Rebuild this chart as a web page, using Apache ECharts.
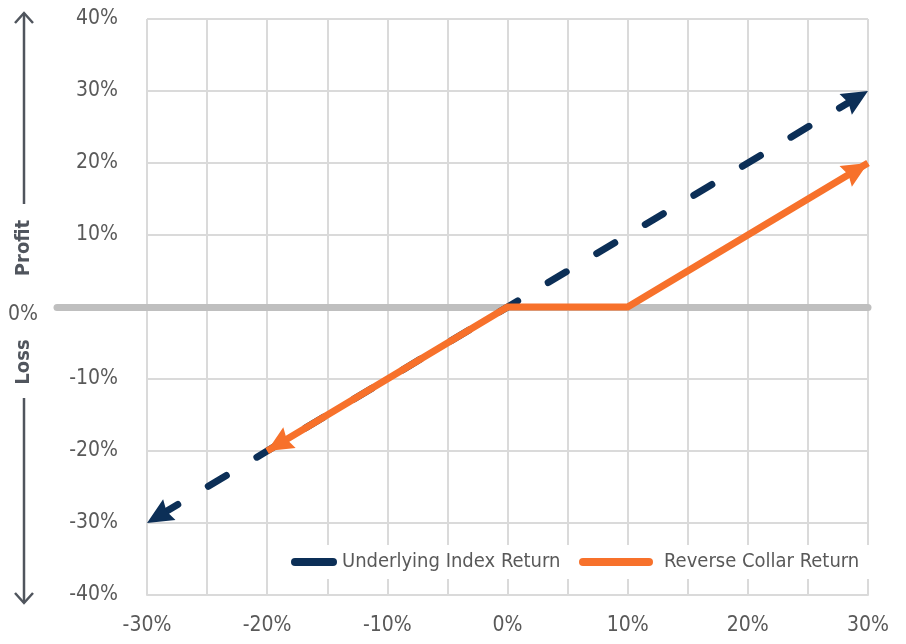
<!DOCTYPE html>
<html>
<head>
<meta charset="utf-8">
<script src="https://cdn.jsdelivr.net/npm/echarts@6/dist/echarts.min.js"></script>
<style>
  html, body { margin: 0; padding: 0; background: #fff; }
  #chart { width: 906px; height: 644px; }
</style>
</head>
<body>
<div id="chart"></div>
<script>
// data
const indexX = [-30, 30];
const indexY = [-30, 30];
const collarX = [-20, 0, 10, 30];
const collarY = [-20, 0, 0, 20];
const seriesNames = ["Underlying Index Return", "Reverse Collar Return"];
const xTickLabels = [-30, -20, -10, 0, 10, 20, 30];
const yTickLabels = [-40, -30, -20, -10, 10, 20, 30, 40];

const FONT = "'Liberation Sans Narrow', 'DejaVu Sans Condensed', 'Arial Narrow', sans-serif";
const NAVY = "#0c2f57";
const ORANGE = "#f7712b";
const GRID = "#dadada";
const LABEL = "#595959";
const SIDE = "#50555d";
// arrow head: tip on top, notched back
const ARROW = "path://M10,0 L20,24 L10,21 L0,24 Z";
const ARROW_SIZE = [24, 26];
const ARROW_OFF = [[0, 13], [0, 13]];

function pct(v) { return v + "%"; }

let chart = echarts.init(document.getElementById("chart"));
chart.setOption({
  animation: false,
  grid: [
    { left: 147, right: 38, top: 19, bottom: 49 },
    { left: 57, right: 38, top: 19, bottom: 49 } // only for the long 0% line
  ],
  xAxis: [
    {
      type: "value", gridIndex: 0, min: -30, max: 30, interval: 5,
      axisLine: { show: true, onZero: false, lineStyle: { color: GRID, width: 2 } },
      axisTick: { show: false },
      splitLine: { lineStyle: { color: GRID, width: 2 } },
      axisLabel: {
        margin: 20, color: LABEL, fontSize: 21, fontFamily: FONT,
        formatter: v => (xTickLabels.indexOf(v) >= 0 ? pct(v) : "")
      }
    },
    {
      type: "value", gridIndex: 1, min: -30, max: 30,
      axisLine: { show: true, onZero: true, lineStyle: { color: "#bfbfbf", width: 7 } },
      axisTick: { show: false },
      axisLabel: { show: false },
      splitLine: { show: false }
    }
  ],
  yAxis: [
    {
      type: "value", gridIndex: 0, min: -40, max: 40, interval: 10,
      axisLine: { show: true, lineStyle: { color: GRID, width: 2 } },
      axisTick: { show: false },
      splitLine: { lineStyle: { color: GRID, width: 2 } },
      axisLabel: {
        margin: 29, color: LABEL, fontSize: 21, fontFamily: FONT,
        formatter: v => (yTickLabels.indexOf(v) >= 0 ? pct(v) : "")
      }
    },
    {
      type: "value", gridIndex: 1, min: -40, max: 40, interval: 10,
      axisLine: { show: false },
      axisTick: { show: false },
      splitLine: { show: false },
      axisLabel: {
        margin: 19, color: LABEL, fontSize: 21, fontFamily: FONT,
        verticalAlign: "top", lineHeight: 16,
        formatter: v => (v === 0 ? "0%" : "")
      }
    }
  ],
  legend: [
    {
      data: [seriesNames[0]], left: 281, top: 545,
      itemWidth: 46, itemHeight: 8, itemGap: 4,
      icon: "path://M4,0 H42 A4,4 0 0 1 42,8 H4 A4,4 0 0 1 4,0 Z",
      backgroundColor: "#fff", padding: [7, 10, 7, 10],
      textStyle: { color: LABEL, fontSize: 20, fontFamily: FONT }
    },
    {
      data: [seriesNames[1]], left: 567, top: 545,
      itemWidth: 74, itemHeight: 8,
      icon: "path://M4,0 H70 A4,4 0 0 1 70,8 H4 A4,4 0 0 1 4,0 Z",
      backgroundColor: "#fff", padding: [7, 14, 7, 12],
      textStyle: { color: LABEL, fontSize: 20, fontFamily: FONT, padding: [0, 0, 0, 6] }
    }
  ],
  graphic: [
    { type: "text", rotation: Math.PI / 2, x: 24, y: 248,
      style: { text: "Profit", fill: SIDE, font: "bold 20px " + FONT, align: "center", verticalAlign: "middle" } },
    { type: "polyline", shape: { points: [[24, 204], [24, 13]] }, style: { stroke: SIDE, lineWidth: 2.5, fill: null } },
    { type: "polyline", shape: { points: [[15, 23], [24, 13], [33, 23]] }, style: { stroke: SIDE, lineWidth: 2.5, fill: null } },
    { type: "text", rotation: Math.PI / 2, x: 24, y: 362,
      style: { text: "Loss", fill: SIDE, font: "bold 20px " + FONT, align: "center", verticalAlign: "middle" } },
    { type: "polyline", shape: { points: [[24, 398], [24, 603]] }, style: { stroke: SIDE, lineWidth: 2.5, fill: null } },
    { type: "polyline", shape: { points: [[15, 593], [24, 603], [33, 593]] }, style: { stroke: SIDE, lineWidth: 2.5, fill: null } }
  ],
  series: [
    {
      name: seriesNames[0], type: "line", xAxisIndex: 0, yAxisIndex: 0,
      data: indexX.map((x, i) => [x, indexY[i]]),
      showSymbol: false, color: NAVY, z: 3,
      lineStyle: { color: NAVY, width: 7, type: [21, 35.6], dashOffset: 41.7, cap: "round" },
      markLine: {
        silent: true, symbol: [ARROW, ARROW], symbolSize: ARROW_SIZE, symbolOffset: ARROW_OFF,
        label: { show: false },
        lineStyle: { color: NAVY, width: 0, type: "solid" },
        data: [[{ coord: [indexX[0], indexY[0]] }, { coord: [indexX[1], indexY[1]] }]]
      }
    },
    {
      name: seriesNames[1], type: "line", xAxisIndex: 0, yAxisIndex: 0,
      data: collarX.map((x, i) => [x, collarY[i]]),
      showSymbol: false, color: ORANGE, z: 4,
      lineStyle: { color: ORANGE, width: 7, cap: "butt", join: "miter" },
      markLine: {
        silent: true, symbolSize: ARROW_SIZE, symbolOffset: ARROW_OFF,
        label: { show: false },
        lineStyle: { color: ORANGE, width: 0, type: "solid" },
        data: [
          [{ coord: [collarX[0], collarY[0]], symbol: ARROW }, { coord: [collarX[1], collarY[1]], symbol: "none" }],
          [{ coord: [collarX[2], collarY[2]], symbol: "none" }, { coord: [collarX[3], collarY[3]], symbol: ARROW }]
        ]
      }
    }
  ]
});
</script>
</body>
</html>
